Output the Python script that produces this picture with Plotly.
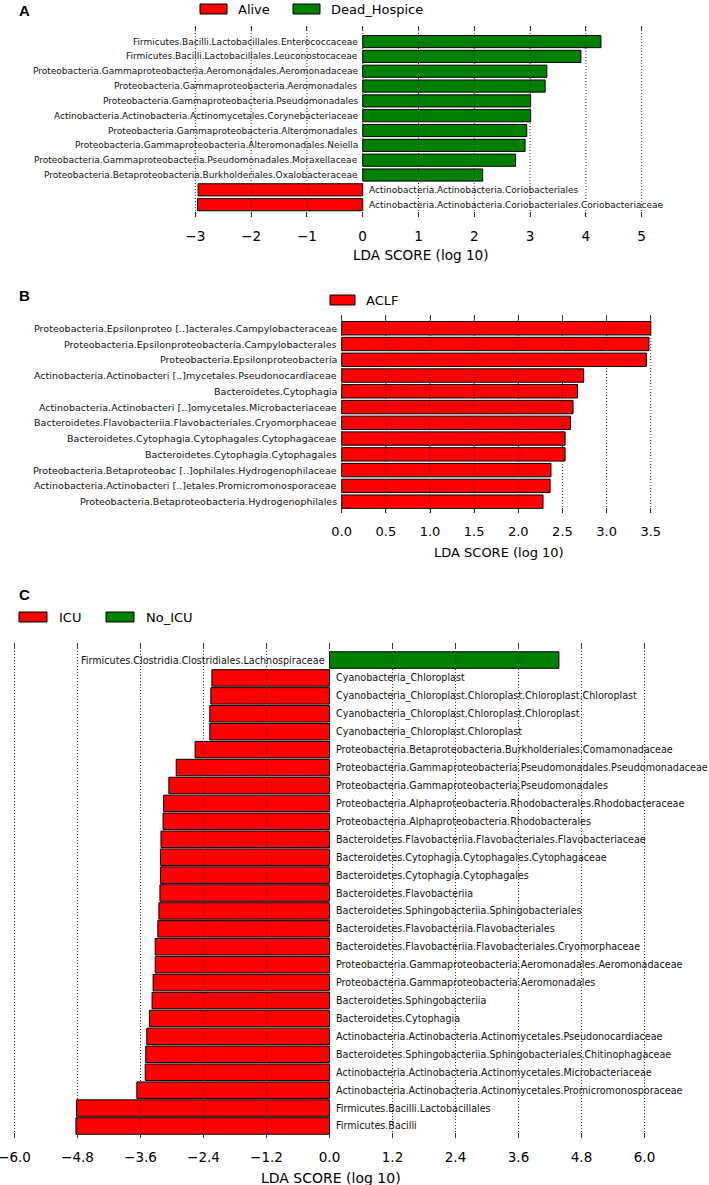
import plotly.graph_objects as go

# ---------------- data ----------------
A_labels = [
    "Firmicutes.Bacilli.Lactobacillales.Enterococcaceae",
    "Firmicutes.Bacilli.Lactobacillales.Leuconostocaceae",
    "Proteobacteria.Gammaproteobacteria.Aeromonadales.Aeromonadaceae",
    "Proteobacteria.Gammaproteobacteria.Aeromonadales",
    "Proteobacteria.Gammaproteobacteria.Pseudomonadales",
    "Actinobacteria.Actinobacteria.Actinomycetales.Corynebacteriaceae",
    "Proteobacteria.Gammaproteobacteria.Alteromonadales",
    "Proteobacteria.Gammaproteobacteria.Alteromonadales.Neiella",
    "Proteobacteria.Gammaproteobacteria.Pseudomonadales.Moraxellaceae",
    "Proteobacteria.Betaproteobacteria.Burkholderiales.Oxalobacteraceae",
    "Actinobacteria.Actinobacteria.Coriobacteriales",
    "Actinobacteria.Actinobacteria.Coriobacteriales.Coriobacteriaceae",
]
A_values = [4.27, 3.91, 3.30, 3.27, 3.01, 3.01, 2.94, 2.91, 2.74, 2.15, -2.95, -2.96]
A_classes = ["Dead_Hospice"] * 10 + ["Alive"] * 2
A_legend = ["Alive", "Dead_Hospice"]
A_ticks = [-3, -2, -1, 0, 1, 2, 3, 4, 5]
A_ticktext = ["\u22123", "\u22122", "\u22121", "0", "1", "2", "3", "4", "5"]

B_labels = [
    "Proteobacteria.Epsilonproteo [..]acterales.Campylobacteraceae",
    "Proteobacteria.Epsilonproteobacteria.Campylobacterales",
    "Proteobacteria.Epsilonproteobacteria",
    "Actinobacteria.Actinobacteri [..]mycetales.Pseudonocardiaceae",
    "Bacteroidetes.Cytophagia",
    "Actinobacteria.Actinobacteri [..]omycetales.Microbacteriaceae",
    "Bacteroidetes.Flavobacteriia.Flavobacteriales.Cryomorphaceae",
    "Bacteroidetes.Cytophagia.Cytophagales.Cytophagaceae",
    "Bacteroidetes.Cytophagia.Cytophagales",
    "Proteobacteria.Betaproteobac [..]ophilales.Hydrogenophilaceae",
    "Actinobacteria.Actinobacteri [..]etales.Promicromonosporaceae",
    "Proteobacteria.Betaproteobacteria.Hydrogenophilales",
]
B_values = [3.50, 3.48, 3.45, 2.74, 2.67, 2.62, 2.59, 2.53, 2.53, 2.37, 2.36, 2.28]
B_classes = ["ACLF"] * 12
B_legend = ["ACLF"]
B_ticks = [0.0, 0.5, 1.0, 1.5, 2.0, 2.5, 3.0, 3.5]
B_ticktext = ["0.0", "0.5", "1.0", "1.5", "2.0", "2.5", "3.0", "3.5"]

C_labels = [
    "Firmicutes.Clostridia.Clostridiales.Lachnospiraceae",
    "Cyanobacteria_Chloroplast",
    "Cyanobacteria_Chloroplast.Chloroplast.Chloroplast.Chloroplast",
    "Cyanobacteria_Chloroplast.Chloroplast.Chloroplast",
    "Cyanobacteria_Chloroplast.Chloroplast",
    "Proteobacteria.Betaproteobacteria.Burkholderiales.Comamonadaceae",
    "Proteobacteria.Gammaproteobacteria.Pseudomonadales.Pseudomonadaceae",
    "Proteobacteria.Gammaproteobacteria.Pseudomonadales",
    "Proteobacteria.Alphaproteobacteria.Rhodobacterales.Rhodobacteraceae",
    "Proteobacteria.Alphaproteobacteria.Rhodobacterales",
    "Bacteroidetes.Flavobacteriia.Flavobacteriales.Flavobacteriaceae",
    "Bacteroidetes.Cytophagia.Cytophagales.Cytophagaceae",
    "Bacteroidetes.Cytophagia.Cytophagales",
    "Bacteroidetes.Flavobacteriia",
    "Bacteroidetes.Sphingobacteriia.Sphingobacteriales",
    "Bacteroidetes.Flavobacteriia.Flavobacteriales",
    "Bacteroidetes.Flavobacteriia.Flavobacteriales.Cryomorphaceae",
    "Proteobacteria.Gammaproteobacteria.Aeromonadales.Aeromonadaceae",
    "Proteobacteria.Gammaproteobacteria.Aeromonadales",
    "Bacteroidetes.Sphingobacteriia",
    "Bacteroidetes.Cytophagia",
    "Actinobacteria.Actinobacteria.Actinomycetales.Pseudonocardiaceae",
    "Bacteroidetes.Sphingobacteriia.Sphingobacteriales.Chitinophagaceae",
    "Actinobacteria.Actinobacteria.Actinomycetales.Microbacteriaceae",
    "Actinobacteria.Actinobacteria.Actinomycetales.Promicromonosporaceae",
    "Firmicutes.Bacilli.Lactobacillales",
    "Firmicutes.Bacilli",
]
C_values = [4.37, -2.24, -2.26, -2.28, -2.28, -2.56, -2.92, -3.06, -3.16, -3.17,
            -3.21, -3.22, -3.22, -3.23, -3.25, -3.27, -3.32, -3.32, -3.36, -3.38,
            -3.43, -3.48, -3.50, -3.51, -3.67, -4.82, -4.83]
C_classes = ["No_ICU"] + ["ICU"] * 26
C_legend = ["ICU", "No_ICU"]
C_ticks = [-6.0, -4.8, -3.6, -2.4, -1.2, 0.0, 1.2, 2.4, 3.6, 4.8, 6.0]
C_ticktext = ["\u22126.0", "\u22124.8", "\u22123.6", "\u22122.4", "\u22121.2", "0.0",
              "1.2", "2.4", "3.6", "4.8", "6.0"]

CLASS_COLORS = {"Alive": "#FF0000", "Dead_Hospice": "#008000", "ACLF": "#FF0000",
                "ICU": "#FF0000", "No_ICU": "#008000"}

# ---------------- layout geometry (pixels) ----------------
W, H = 709, 1185
FONT = "DejaVu Sans"


def fx(p):
    return p / W


def fy(p):
    return 1 - p / H


panels = [
    dict(key="", letter="A", labels=A_labels, values=A_values, classes=A_classes,
         legend=A_legend, ticks=A_ticks, ticktext=A_ticktext,
         xrange=[-3.3, 5.4], xpx=[362.7 - 3.3 * 55.8, 362.7 + 5.4 * 55.8],
         ypx=[26, 217], pad=[1.05, 0.83], barw=0.82, fs=9.0, tfs=13.6, titlefs=13.6,
         letter_y=10, leg_y=9, leg_items=[(200, 227, 236), (293, 320, 329)],
         title_y=255),
    dict(key="2", letter="B", labels=B_labels, values=B_values, classes=B_classes,
         legend=B_legend, ticks=B_ticks, ticktext=B_ticktext,
         xrange=[-0.03, 3.6], xpx=[341.7 - 0.03 * 88.3, 341.7 + 3.6 * 88.3],
         ypx=[315, 513], pad=[0.84, 0.72], barw=0.85, fs=9.55, tfs=13, titlefs=13,
         letter_y=295, leg_y=300, leg_items=[(330, 355, 364)],
         title_y=552),
    dict(key="3", letter="C", labels=C_labels, values=C_values, classes=C_classes,
         legend=C_legend, ticks=C_ticks, ticktext=C_ticktext,
         xrange=[-6.25, 6.3], xpx=[329.5 - 6.25 * 52.5, 329.5 + 6.3 * 52.5],
         ypx=[643, 1138], pad=[0.95, 0.67], barw=0.92, fs=9.6, tfs=13.5, titlefs=14,
         letter_y=594, leg_y=617, leg_items=[(19, 47, 57), (106, 134, 144)],
         title_y=1178),
]

fig = go.Figure()
annotations = []
shapes = []
layout_axes = {}

for p in panels:
    k = p["key"]
    xname, yname = "x" + k, "y" + k
    n = len(p["labels"])
    idx = list(range(n))
    # bars, one trace per class
    for cls in p["legend"]:
        ys = [i for i in idx if p["classes"][i] == cls]
        fig.add_trace(go.Bar(
            x=[p["values"][i] for i in ys], y=ys, orientation="h",
            width=p["barw"], marker=dict(color=CLASS_COLORS[cls],
                                         line=dict(color="#000000", width=1)),
            xaxis=xname, yaxis=yname, showlegend=False, hoverinfo="skip",
        ))
    # labels beside the zero line
    for i in idx:
        v = p["values"][i]
        annotations.append(dict(
            x=0, y=i, xref=xname, yref=yname, text=p["labels"][i], showarrow=False,
            xanchor="right" if v > 0 else "left", yanchor="middle",
            xshift=-3 if v > 0 else 4.5,
            font=dict(family=FONT, size=p["fs"], color="#111111"),
        ))
    # dotted grid lines drawn above bars
    for t in p["ticks"]:
        shapes.append(dict(type="line", xref=xname, yref=yname + " domain",
                           x0=t, x1=t, y0=0, y1=1, layer="above",
                           line=dict(color="#333333", width=1, dash="1px,2px")))
    layout_axes["xaxis" + k] = dict(
        domain=[fx(p["xpx"][0]), fx(p["xpx"][1])], anchor=yname,
        range=p["xrange"], tickvals=p["ticks"], ticktext=p["ticktext"],
        showgrid=False, zeroline=False, showline=False,
        ticks="inside", ticklen=5, tickwidth=1, tickcolor="#333333", mirror="ticks",
        tickfont=dict(family=FONT, size=p["tfs"], color="#000000"),
        ticklabelstandoff=9, ticklabeloverflow="allow",
        automargin=False, fixedrange=True,
    )
    layout_axes["yaxis" + k] = dict(
        domain=[fy(p["ypx"][1]), fy(p["ypx"][0])], anchor=xname,
        range=[n - 1 + p["pad"][1], -p["pad"][0]], visible=False,
        automargin=False, fixedrange=True,
    )
    # panel letter
    annotations.append(dict(
        x=fx(17), y=fy(p["letter_y"]), xref="paper", yref="paper", text="<b>%s</b>" % p["letter"],
        showarrow=False, xanchor="left", yanchor="middle",
        font=dict(family="Liberation Sans", size=15, color="#000000")))
    # legend
    for cls, (x0, x1, tx) in zip(p["legend"], p["leg_items"]):
        shapes.append(dict(type="rect", xref="paper", yref="paper",
                           x0=fx(x0), x1=fx(x1), y0=fy(p["leg_y"] + 5), y1=fy(p["leg_y"] - 5),
                           fillcolor=CLASS_COLORS[cls], line=dict(color="#000000", width=1)))
        annotations.append(dict(
            x=fx(tx), y=fy(p["leg_y"]), xref="paper", yref="paper", text=cls,
            showarrow=False, xanchor="left", yanchor="middle",
            font=dict(family=FONT, size=13, color="#000000")))
    # axis title
    annotations.append(dict(
        x=fx((p["xpx"][0] + p["xpx"][1]) / 2), y=fy(p["title_y"]), xref="paper", yref="paper",
        text="LDA SCORE (log 10)", showarrow=False, xanchor="center", yanchor="middle",
        font=dict(family=FONT, size=p["titlefs"], color="#000000")))

fig.update_layout(
    width=W, height=H, margin=dict(l=0, r=0, t=0, b=0),
    paper_bgcolor="white", plot_bgcolor="white",
    barmode="overlay", showlegend=False,
    annotations=annotations, shapes=shapes,
    font=dict(family=FONT),
    **layout_axes,
)

fig.write_html(
    "out.html",
    config={"displayModeBar": False, "staticPlot": True},
    post_script="document.body.style.margin='0px';document.body.style.padding='0px';"
                "document.body.style.overflow='hidden';",
)
